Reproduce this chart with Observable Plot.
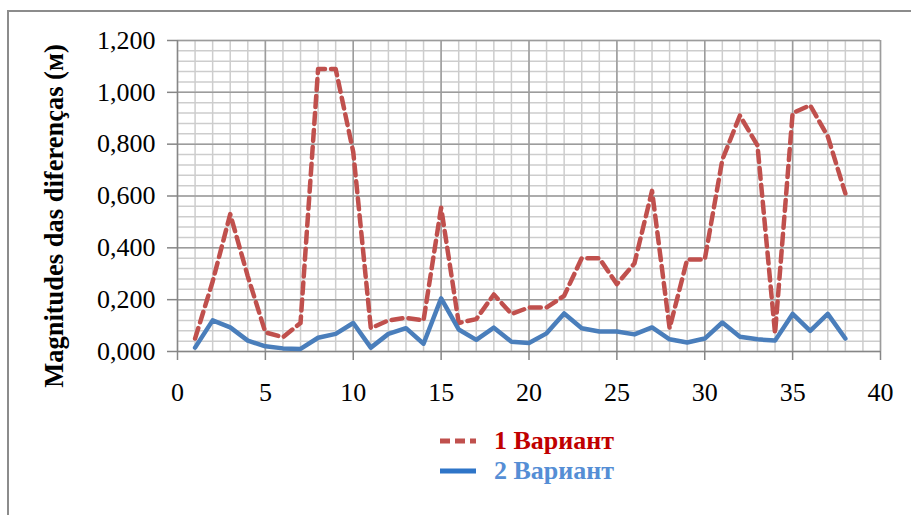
<!DOCTYPE html>
<html>
<head>
<meta charset="utf-8">
<script src="https://cdn.jsdelivr.net/npm/d3@7"></script>
<script src="https://cdn.jsdelivr.net/npm/@observablehq/plot@0.6"></script>
<style>
  html, body { margin: 0; padding: 0; background: #fff; }
  #wrap { position: relative; width: 911px; height: 515px; overflow: hidden; background: #fff; }
  #border { position: absolute; left: 7px; top: 10px; width: 1000px; height: 600px;
            border-top: 2px solid #8c8c8c; border-left: 2px solid #8c8c8c; }
  #chart { position: absolute; left: 0; top: 0; }
  #ylabel { position: absolute; left: 54px; top: 216px; transform: translate(-50%, -50%) rotate(-90deg);
            font: bold 26.5px "Liberation Serif", "Times New Roman", serif; white-space: nowrap; color: #000; }
  #legend { position: absolute; left: 438px; top: 426px; font: bold 26px "Liberation Serif", "Times New Roman", serif; }
  .item { display: flex; align-items: center; height: 30px; }
  .item svg { margin-right: 16px; }
</style>
</head>
<body>
<div id="wrap">
  <div id="border"></div>
  <div id="chart"></div>
  <div id="ylabel">Magnitudes das diferenças (м)</div>
  <div id="legend"></div>
</div>
<script>
// Data
const points = d3.range(1, 39); // 1..38
const variant1 = [0.05, 0.27, 0.53, 0.29, 0.074, 0.055, 0.11, 1.09, 1.09, 0.77,
                  0.09, 0.12, 0.13, 0.12, 0.555, 0.11, 0.125, 0.22, 0.145, 0.17,
                  0.17, 0.215, 0.36, 0.36, 0.26, 0.34, 0.62, 0.09, 0.355, 0.355,
                  0.74, 0.91, 0.795, 0.07, 0.92, 0.95, 0.83, 0.61];
const variant2 = [0.015, 0.12, 0.093, 0.042, 0.02, 0.012, 0.01, 0.053, 0.068, 0.11,
                  0.015, 0.068, 0.09, 0.03, 0.205, 0.085, 0.045, 0.092, 0.038, 0.033,
                  0.07, 0.147, 0.09, 0.077, 0.077, 0.066, 0.093, 0.047, 0.035, 0.05,
                  0.112, 0.057, 0.047, 0.042, 0.145, 0.08, 0.145, 0.05];
const seriesNames = ["1 Вариант", "2 Вариант"];
const xTicks = [0, 5, 10, 15, 20, 25, 30, 35, 40];
const yTicks = [0, 0.2, 0.4, 0.6, 0.8, 1.0, 1.2];
const xMinor = d3.range(0, 41, 1);
const yMinor = d3.range(0, 31).map(i => i * 0.04);

const red = "#C0504D", blue = "#4A7EBB";
const d1 = points.map((p, i) => ({x: p, y: variant1[i]}));
const d2 = points.map((p, i) => ({x: p, y: variant2[i]}));
const fmt = d => d3.format(".3f")(d).replace(".", ",");

const plot = Plot.plot({
  width: 911, height: 420,
  marginLeft: 177, marginRight: 31, marginTop: 40, marginBottom: 69,
  style: {fontFamily: "'Liberation Serif', 'Times New Roman', serif", fontSize: "26px", color: "#000", background: "transparent", overflow: "visible"},
  x: {domain: [0, 40]},
  y: {domain: [0, 1.2]},
  marks: [
    Plot.ruleX(xMinor, {stroke: "#cdcdcd", strokeWidth: 1.5}),
    Plot.ruleY(yMinor, {stroke: "#cdcdcd", strokeWidth: 1.5}),
    Plot.ruleX(xTicks.filter(d => d > 0), {stroke: "#9c9c9c", strokeWidth: 1.5}),
    Plot.ruleY(yTicks.filter(d => d > 0), {stroke: "#9c9c9c", strokeWidth: 1.5}),
    Plot.axisX({ticks: xTicks, tickSize: 9, tickPadding: 22, tickFormat: d => String(d), stroke: "#868686", strokeWidth: 1.5, label: null, fill: "#000"}),
    Plot.axisY({ticks: yTicks, tickSize: 10, tickPadding: 12, tickFormat: fmt, stroke: "#868686", strokeWidth: 1.5, label: null, fill: "#000"}),
    Plot.ruleX([0], {stroke: "#868686", strokeWidth: 1.5}),
    Plot.ruleY([0], {stroke: "#868686", strokeWidth: 1.5}),
    Plot.line(d1, {x: "x", y: "y", stroke: red, strokeWidth: 4.5, strokeDasharray: "11,6", strokeLinejoin: "round"}),
    Plot.line(d2, {x: "x", y: "y", stroke: blue, strokeWidth: 4.5, strokeLinejoin: "round"})
  ]
});
document.getElementById("chart").appendChild(plot);

// Legend
const legendItems = [
  {name: seriesNames[0], stroke: red, dash: "10,5", text: "#C00000"},
  {name: seriesNames[1], stroke: "#2E75C8", dash: null, text: "#558ED5"}
];
const legend = document.getElementById("legend");
for (const it of legendItems) {
  const row = document.createElement("div");
  row.className = "item";
  row.innerHTML = `<svg width="40" height="10"><line x1="2" y1="5" x2="38" y2="5" stroke="${it.stroke}" stroke-width="5" ${it.dash ? `stroke-dasharray="${it.dash}"` : ""} stroke-linecap="butt"/></svg><span style="color:${it.text}">${it.name}</span>`;
  legend.appendChild(row);
}
</script>
</body>
</html>
